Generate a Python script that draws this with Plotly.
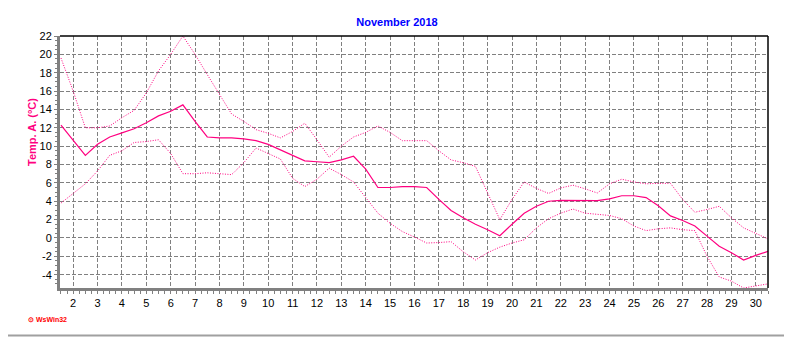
import plotly.graph_objects as go

days = [1.5, 2, 2.5, 3, 3.5, 4, 4.5, 5, 5.5, 6, 6.5, 7, 7.5, 8, 8.5, 9, 9.5, 10, 10.5,
        11, 11.5, 12, 12.5, 13, 13.5, 14, 14.5, 15, 15.5, 16, 16.5, 17, 17.5, 18, 18.5,
        19, 19.5, 20, 20.5, 21, 21.5, 22, 22.5, 23, 23.5, 24, 24.5, 25, 25.5, 26, 26.5,
        27, 27.5, 28, 28.5, 29, 29.5, 30, 30.5]

temp_max = [19.6, 16.0, 12.0, 12.0, 12.2, 13.1, 13.9, 15.8, 18.2, 20.0, 22.0, 20.0, 17.8,
            15.6, 13.5, 12.7, 11.8, 11.4, 10.9, 11.6, 12.5, 10.7, 8.8, 10.0, 11.0, 11.5,
            12.2, 11.5, 10.6, 10.6, 10.6, 9.5, 8.5, 8.2, 7.8, 4.9, 2.0, 4.2, 6.1, 5.4,
            4.85, 5.45, 5.75, 5.35, 4.9, 5.9, 6.4, 6.1, 5.9, 5.95, 5.95, 4.2, 2.8, 3.1,
            3.45, 2.2, 1.1, 0.5, -0.1]

temp_mean = [12.3, 10.7, 9.0, 10.2, 11.0, 11.45, 11.9, 12.55, 13.3, 13.8, 14.5, 12.7, 11.0,
             10.9, 10.9, 10.8, 10.6, 10.2, 9.6, 9.0, 8.4, 8.3, 8.2, 8.5, 8.9, 7.5, 5.5,
             5.5, 5.6, 5.6, 5.5, 4.2, 3.0, 2.2, 1.5, 0.9, 0.25, 1.5, 2.7, 3.45, 4.0, 4.1,
             4.1, 4.07, 4.07, 4.25, 4.6, 4.6, 4.4, 3.5, 2.4, 1.9, 1.3, 0.2, -0.9, -1.6,
             -2.4, -1.9, -1.45]

temp_min = [3.8, 4.8, 5.9, 7.3, 9.0, 9.5, 10.4, 10.5, 10.7, 9.2, 7.0, 7.0, 7.1, 7.0, 6.9,
            8.2, 9.8, 9.2, 8.6, 6.5, 5.6, 6.4, 7.6, 6.9, 6.1, 4.4, 2.7, 1.6, 0.7, 0.1,
            -0.55, -0.5, -0.4, -1.5, -2.4, -1.6, -1.0, -0.55, -0.2, 1.1, 2.1, 2.7, 3.15,
            2.7, 2.55, 2.45, 2.1, 1.3, 0.8, 1.0, 1.1, 0.9, 0.8, -2.0, -4.25, -4.7, -5.45,
            -5.2, -5.0]

x_ticks = list(range(2, 31))
y_ticks = list(range(-4, 23, 2))

PINK = "#ff0080"
FONT = "Arial, Liberation Sans, sans-serif"

fig = go.Figure()
fig.add_trace(go.Scatter(x=days, y=temp_max, mode="lines",
                         line=dict(color=PINK, width=1, dash="1px,1.5px"), showlegend=False))
fig.add_trace(go.Scatter(x=days, y=temp_min, mode="lines",
                         line=dict(color=PINK, width=1, dash="1px,1.5px"), showlegend=False))
fig.add_trace(go.Scatter(x=days, y=temp_mean, mode="lines",
                         line=dict(color=PINK, width=1.2), showlegend=False))

# page body has an 8px margin: figure is drawn at (8, 8) in the window
OFF = 8
L, R, T, B = 60 - OFF, 24, 36 - OFF, 49
W, H = 792 - OFF, 337 - OFF
pw, ph = W - L - R, H - T - B
PLOT_BOTTOM = 36 + ph  # in window coords

fig.update_layout(
    width=W, height=H,
    margin=dict(l=L, r=R, t=T, b=B),
    paper_bgcolor="white", plot_bgcolor="white",
    font=dict(family=FONT, size=11, color="black"),
    title=dict(text="<b>November 2018</b>", x=(397 - 60) / pw, xref="paper", xanchor="center",
               y=1 - (22 - OFF) / H, yanchor="middle",
               font=dict(family=FONT, size=11, color="#0000ff")),
    xaxis=dict(range=[1.46, 30.5], tickmode="array", tickvals=x_ticks,
               ticktext=[str(v) for v in x_ticks],
               showgrid=True, gridcolor="#808080", griddash="4px,2px", gridwidth=1,
               zeroline=False, showline=True, linecolor="#808080", linewidth=3,
               ticks="outside", ticklen=3, tickcolor="#808080",
               minor=dict(dtick=0.25, tick0=0, ticks="outside", ticklen=3,
                          tickcolor="#808080", showgrid=False),
               tickfont=dict(family=FONT, size=11, color="black")),
    yaxis=dict(range=[-5.45, 22], tickmode="array", tickvals=y_ticks,
               ticktext=[str(v) for v in y_ticks],
               showgrid=True, gridcolor="#808080", griddash="4px,2px", gridwidth=1,
               zeroline=False, showline=True, linecolor="#808080", linewidth=3,
               ticks="outside", ticklen=3, tickcolor="#808080",
               minor=dict(dtick=0.5, tick0=0, ticks="outside", ticklen=2,
                          tickcolor="#808080", showgrid=False),
               tickfont=dict(family=FONT, size=11, color="black")),
    shapes=[
        dict(type="line", xref="paper", yref="paper", x0=0, x1=1, y0=1, y1=1,
             line=dict(color="black", width=1.5)),
        dict(type="line", xref="paper", yref="paper", x0=1, x1=1, y0=0, y1=1,
             line=dict(color="black", width=1.5)),
        dict(type="line", xref="paper", yref="paper",
             x0=(790.5 - 60) / pw, x1=(790.5 - 60) / pw,
             y0=(PLOT_BOTTOM - OFF) / ph, y1=-(335.5 - PLOT_BOTTOM) / ph,
             line=dict(color="#a0a0a0", width=2)),
        dict(type="line", xref="paper", yref="paper",
             x0=-(60 - OFF) / pw, x1=(790.5 - 60) / pw,
             y0=-(335.5 - PLOT_BOTTOM) / ph, y1=-(335.5 - PLOT_BOTTOM) / ph,
             line=dict(color="#a0a0a0", width=2)),
    ],
    annotations=[
        dict(text="<b>Temp. A. (°C)</b>", textangle=-90, xref="paper", yref="paper",
             x=(32 - 60) / pw, y=(PLOT_BOTTOM - 132) / ph, xanchor="center", yanchor="middle",
             showarrow=False, font=dict(family=FONT, size=11, color=PINK)),
        dict(text="<b>⊙ WsWin32</b>", xref="paper", yref="paper",
             x=(26 - 60) / pw, y=-(319 - PLOT_BOTTOM) / ph, xanchor="left", yanchor="middle",
             showarrow=False, font=dict(family=FONT, size=7, color="#ff0000")),
    ],
)

fig.write_html("out.html")
